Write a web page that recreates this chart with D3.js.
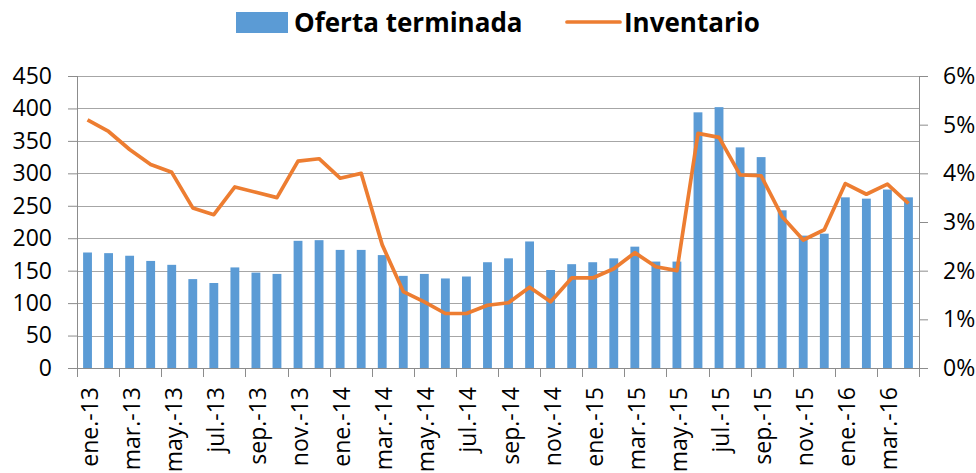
<!DOCTYPE html>
<html>
<head>
<meta charset="utf-8">
<script src="https://cdn.jsdelivr.net/npm/d3@7"></script>
<style>
  body { margin:0; background:#fff; }
  text { font-family: "Open Sans", "Liberation Sans", sans-serif; fill:#000; }
</style>
</head>
<body>
<div id="chart"></div>
<script>
var months = ["ene.","feb.","mar.","abr.","may.","jun.","jul.","ago.","sep.","oct.","nov.","dic."];
var categories = [];
for (var y = 13; y <= 16; y++) {
  for (var m = 0; m < 12; m++) {
    if (y == 16 && m > 3) break;
    categories.push(months[m] + "-" + y);
  }
}

var oferta = [178,177,173,165,159,137,131,155,147,145,196,197,
              182,182,174,142,145,138,141,163,169,195,151,160,
              163,169,187,164,164,394,402,340,325,243,204,207,
              263,261,275,263];

var inventario = [5.10,4.86,4.49,4.18,4.02,3.29,3.15,3.72,3.61,3.50,4.25,4.30,
                  3.90,4.00,2.53,1.57,1.36,1.12,1.12,1.29,1.34,1.66,1.36,1.85,
                  1.85,2.04,2.37,2.08,2.00,4.82,4.74,3.97,3.95,3.11,2.63,2.84,
                  3.79,3.57,3.78,3.38];

var leftTicks = [0,50,100,150,200,250,300,350,400,450];
var rightTicks = [0,1,2,3,4,5,6];

var W = 976, H = 473;
var margin = {top:76, left:77, right:57, bottom:105},
    width = W - margin.left - margin.right,
    height = H - margin.top - margin.bottom;

var svg = d3.select("#chart").append("svg")
            .attr("width", W).attr("height", H);

var g = svg.append("g")
           .attr("transform", "translate(" + margin.left + "," + margin.top + ")");

var x = d3.scaleBand().domain(categories).range([0, width]).paddingInner(0.58).paddingOuter(0.29);
var yL = d3.scaleLinear().domain([0,450]).range([height, 0]);
var yR = d3.scaleLinear().domain([0,6]).range([height, 0]);

// gridlines
g.selectAll(".grid").data(leftTicks.slice(1))
  .enter().append("line")
  .attr("x1", 0).attr("x2", width)
  .attr("y1", function(d){ return Math.round(yL(d)) + 0.5; })
  .attr("y2", function(d){ return Math.round(yL(d)) + 0.5; })
  .attr("stroke", "#a6a6a6").attr("stroke-width", 1);

// bars
g.selectAll(".bar").data(oferta)
  .enter().append("rect")
  .attr("x", function(d,i){ return x(categories[i]); })
  .attr("width", x.bandwidth())
  .attr("y", function(d){ return yL(d); })
  .attr("height", function(d){ return height - yL(d); })
  .attr("fill", "#5b9bd5");

// left axis
var axL = g.append("g").call(d3.axisLeft(yL).tickValues(leftTicks).tickSize(9).tickPadding(16));
axL.selectAll("text").style("font-size","23px");
axL.selectAll("line").attr("stroke","#8c8c8c");
axL.select(".domain").attr("stroke","#8c8c8c").attr("d","M0.5,0V" + height);

// right axis
var axR = g.append("g").attr("transform","translate(" + width + ",0)")
           .call(d3.axisRight(yR).tickValues(rightTicks).tickSize(9).tickPadding(15)
                 .tickFormat(function(d){ return d + "%"; }));
axR.selectAll("text").style("font-size","23px");
axR.selectAll("line").attr("stroke","#8c8c8c");
axR.select(".domain").attr("stroke","#8c8c8c").attr("d","M0.5,0V" + height);

// bottom axis: ticks every 2 categories at band edges
var step = x.step();
var bottom = g.append("g").attr("transform","translate(0," + height + ")");
bottom.append("line").attr("x1",0).attr("x2",width).attr("y1",0.5).attr("y2",0.5).attr("stroke","#8c8c8c");
var tickIdx = d3.range(0, categories.length + 1, 2);
bottom.selectAll(".xt").data(tickIdx).enter().append("line")
  .attr("x1", function(d){ return Math.round(d * step) + 0.5; })
  .attr("x2", function(d){ return Math.round(d * step) + 0.5; })
  .attr("y1", 0).attr("y2", 9).attr("stroke","#8c8c8c");
bottom.selectAll(".xl").data(categories.filter(function(d,i){ return i % 2 == 0; }))
  .enter().append("text")
  .attr("transform", function(d){
      return "translate(" + (x(d) + x.bandwidth()/2 + 10) + ",19) rotate(-90)"; })
  .attr("text-anchor","end")
  .style("font-size","23px")
  .text(function(d){ return d; });

// line
var line = d3.line()
  .x(function(d,i){ return x(categories[i]) + x.bandwidth()/2; })
  .y(function(d){ return yR(d); });
g.append("path").datum(inventario)
  .attr("d", line)
  .attr("fill","none")
  .attr("stroke","#ed7d31")
  .attr("stroke-width",3.7)
  .attr("stroke-linejoin","round");

// legend
var leg = svg.append("g");
leg.append("rect").attr("x",236).attr("y",12).attr("width",52).attr("height",21).attr("fill","#5b9bd5");
leg.append("text").attr("x",294).attr("y",32).style("font-size","26px").style("font-weight","bold").text("Oferta terminada");
leg.append("line").attr("x1",567).attr("x2",620).attr("y1",22).attr("y2",22)
   .attr("stroke","#ed7d31").attr("stroke-width",3.7).attr("stroke-linecap","round");
leg.append("text").attr("x",624).attr("y",32).style("font-size","26px").style("font-weight","bold").text("Inventario");
</script>
</body>
</html>
